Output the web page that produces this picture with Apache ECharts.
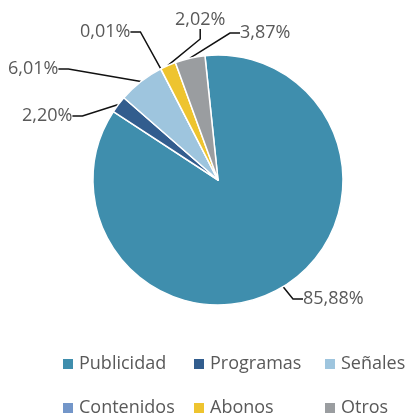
<!DOCTYPE html>
<html>
<head>
<meta charset="utf-8">
<script src="https://cdn.jsdelivr.net/npm/echarts@6/dist/echarts.min.js"></script>
<style>
  html, body { margin: 0; padding: 0; background: #fff; }
  #chart { width: 406px; height: 418px; }
</style>
</head>
<body>
<div id="chart"></div>
<script>
const categories = ["Publicidad", "Programas", "Señales", "Contenidos", "Abonos", "Otros"];
const values = [85.88, 2.20, 6.01, 0.01, 2.02, 3.87];
const colors = ["#3F8EAD", "#325D8E", "#9EC5DE", "#7396C9", "#EEC42F", "#9A9DA0"];

// where each label text sits (left edge, vertical middle)
const labelSpots = [
    [303, 299],
    [22, 116],
    [8, 69],
    [80, 32],
    [175, 20],
    [240, 33]
];

const fontFamily = "'Open Sans', sans-serif";
const textColor = "#595959";
const labelPad = 5;

const chart = echarts.init(document.getElementById("chart"));

function makeLegend(items, left) {
    return {
        orient: "vertical",
        left: left,
        top: 354,
        itemWidth: 12,
        itemHeight: 12,
        itemGap: 24,
        icon: "rect",
        data: items,
        textStyle: {
            fontFamily: fontFamily,
            fontSize: 18,
            lineHeight: 20,
            color: textColor
        },
        padding: 0
    };
}

const option = {
    animation: false,
    color: colors,
    legend: [
        makeLegend([categories[0], categories[3]], 61),
        makeLegend([categories[1], categories[4]], 192),
        makeLegend([categories[2], categories[5]], 323)
    ],
    series: [
        {
            type: "pie",
            center: [218, 180],
            radius: [0, 125],
            startAngle: 96,
            clockwise: true,
            avoidLabelOverlap: false,
            itemStyle: {
                borderColor: "#fff",
                borderWidth: 1.5
            },
            label: {
                show: true,
                position: "outside",
                fontFamily: fontFamily,
                fontSize: 18,
                color: textColor,
                padding: [0, labelPad],
                formatter: function (p) {
                    return p.value.toFixed(2).replace(".", ",") + "%";
                }
            },
            labelLine: {
                show: true,
                length: 10,
                length2: 10,
                lineStyle: { color: "#111", width: 1.5 }
            },
            labelLayout: function (params) {
                const spot = labelSpots[params.dataIndex];
                return {
                    x: spot[0] - labelPad,
                    y: spot[1],
                    align: "left",
                    verticalAlign: "middle"
                };
            },
            data: categories.map(function (name, i) {
                return { name: name, value: values[i] };
            })
        }
    ]
};

chart.setOption(option);
</script>
</body>
</html>
